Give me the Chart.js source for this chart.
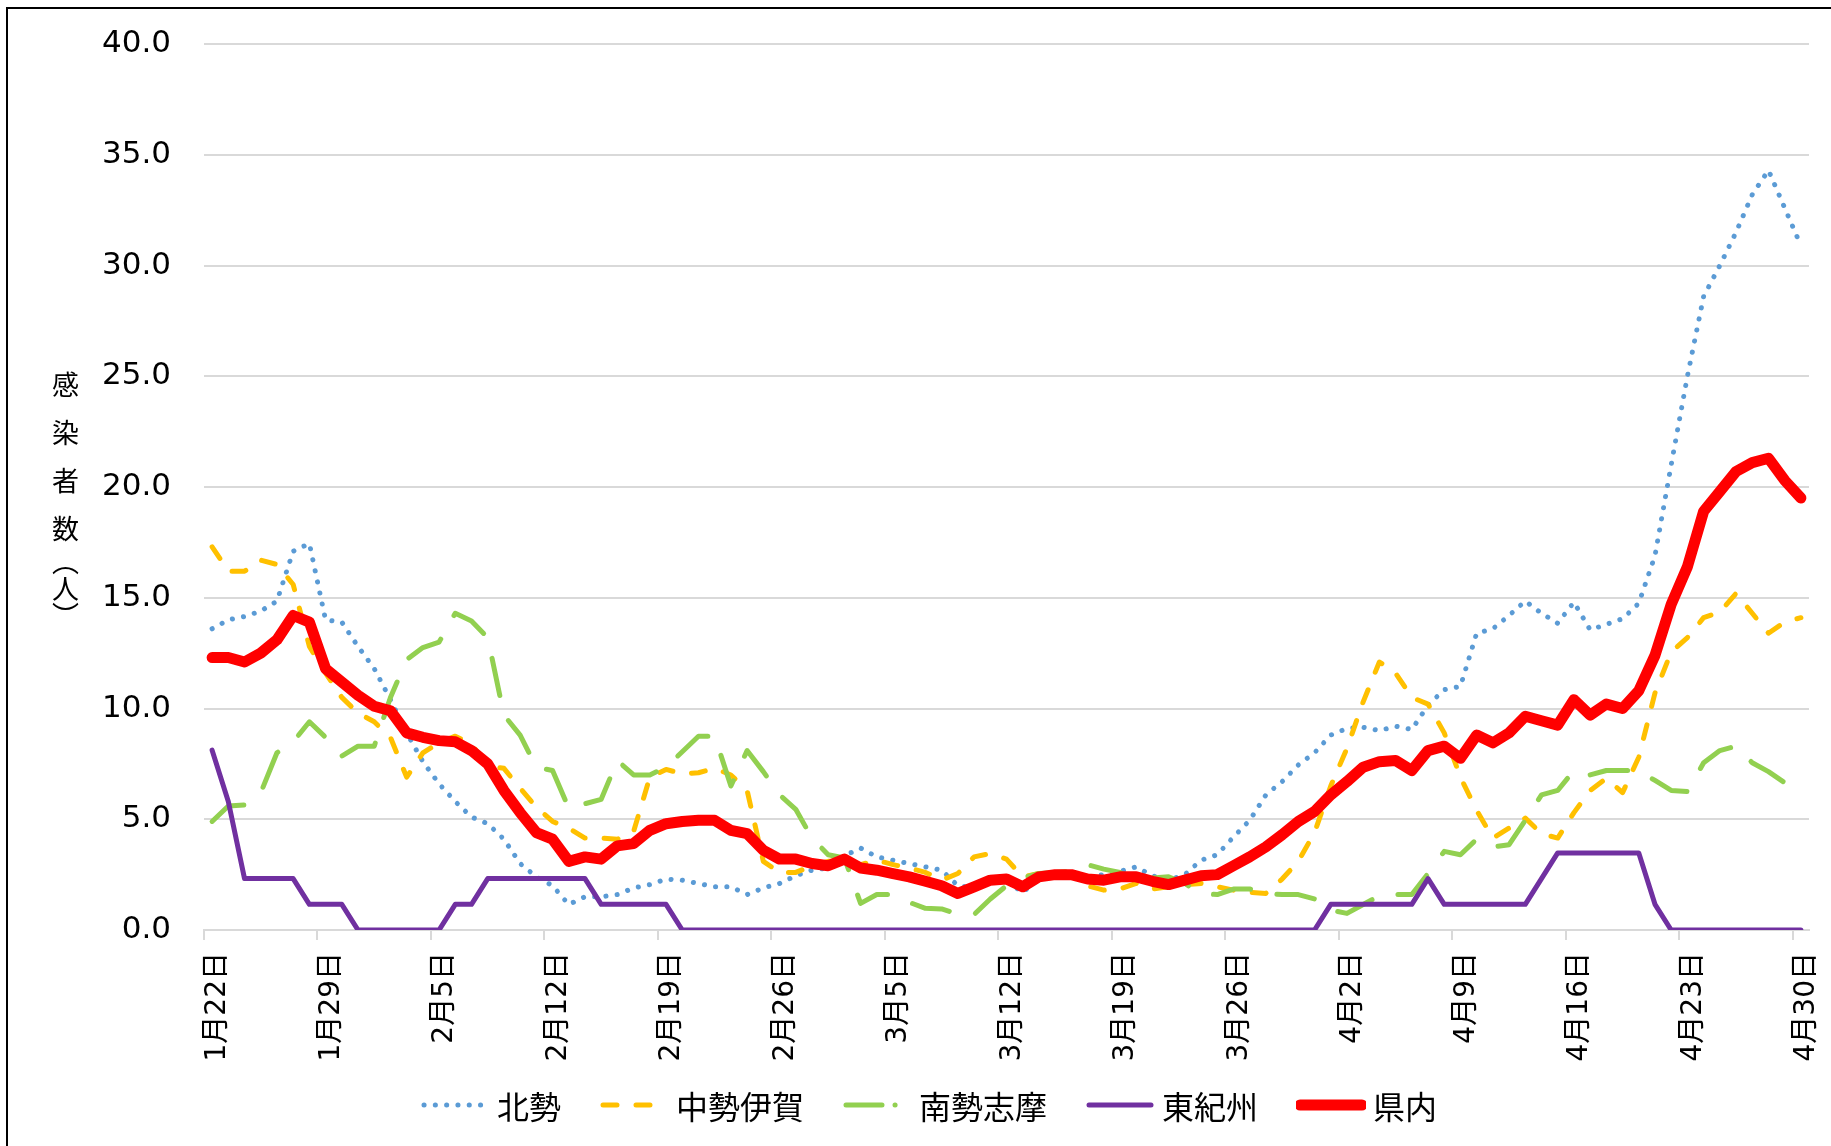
<!DOCTYPE html>
<html lang="ja">
<head>
<meta charset="utf-8">
<title>地域別 感染者数の推移</title>
<script src="https://cdn.jsdelivr.net/npm/chart.js@4.4.1/dist/chart.umd.min.js"></script>
<style>
    html, body { margin: 0; padding: 0; background: #fff; overflow: hidden; }
    #wrap { position: relative; width: 1831px; height: 1146px; }
    #frame {
        position: absolute; left: 6px; top: 7px; right: -10px; bottom: -10px;
        border-left: 2px solid #000; border-top: 2px solid #000;
        pointer-events: none;
    }
    .ytitle {
        position: absolute; writing-mode: vertical-rl;
        font-family: "Noto Sans CJK JP", sans-serif; font-size: 27px;
        line-height: 1; color: #000;
    }
    #ytitle1 { left: 52px; top: 371px; letter-spacing: 21px; }
    #ytitle2 { left: 52px; top: 548px; }
    #legend {
        position: absolute; left: 420px; top: 1084px; height: 42px;
        display: flex; align-items: center;
        font-family: "Noto Sans CJK JP", sans-serif; font-size: 32px; color: #000;
    }
    .legend-item { display: flex; align-items: center; margin-right: 38px; }
    .legend-item svg { width: 70px; height: 20px; margin-right: 7px; }
</style>
</head>
<body>
<div id="wrap">
    <canvas id="trendChart"></canvas>
    <div id="frame"></div>
    <div class="ytitle" id="ytitle1">感染者数</div>
    <div class="ytitle" id="ytitle2">（人）</div>
    <div id="legend"></div>
</div>

<script>
// Days: 1月22日 .. 4月30日 (one category per day)
const monthLengths = [31, 28, 31, 30];
const categories = [];
for (let m = 0; m < monthLengths.length; m++) {
    const first = (m === 0) ? 22 : 1;
    for (let d = first; d <= monthLengths[m]; d++) {
        categories.push((m + 1) + '月' + d + '日');
    }
}
const labelEvery = 7;

// Series values
const hokusei = [
    13.6, 14.0, 14.15, 14.4, 14.85, 17.1, 17.45, 14.0, 13.9, 12.8,
    11.8, 10.4, 8.9, 7.6, 6.6, 5.8, 5.1, 4.8, 4.1, 3.0,
    2.4, 2.0, 1.15, 1.5, 1.5, 1.6, 1.9, 2.05, 2.3, 2.25,
    2.1, 1.95, 1.95, 1.6, 1.9, 2.1, 2.45, 2.7, 2.8, 3.35,
    3.7, 3.3, 3.15, 3.0, 2.85, 2.7, 2.0, 1.9, 2.2, 2.2,
    1.7, 2.3, 2.4, 2.5, 2.4, 2.5, 2.65, 2.85, 2.45, 2.25,
    2.5, 3.15, 3.4, 4.2, 4.95, 6.1, 6.7, 7.45, 8.0, 8.8,
    9.1, 9.15, 9.0, 9.2, 9.05, 10.15, 10.85, 11.0, 13.4, 13.6,
    14.2, 14.85, 14.3, 13.85, 14.8, 13.55, 13.8, 14.05, 14.75, 16.9,
    21.0, 25.0, 28.6, 30.0, 31.5, 33.2, 34.3, 32.6, 30.9
];
const chuseiIga = [
    17.3, 16.2, 16.2, 16.7, 16.5, 15.6, 12.8, 11.6, 10.5, 9.8,
    9.4, 8.7, 6.9, 8.0, 8.45, 8.75, 8.4, 7.4, 7.3, 6.4,
    5.55, 4.9, 4.6, 4.15, 4.15, 4.1, 4.45, 6.9, 7.25, 7.05,
    7.1, 7.3, 7.0, 6.3, 3.1, 2.6, 2.6, 2.9, 3.1, 3.15,
    2.95, 3.15, 2.95, 2.8, 2.6, 2.25, 2.55, 3.3, 3.45, 3.2,
    2.4, 2.55, 2.55, 2.5, 2.0, 1.8, 1.85, 2.1, 1.85, 1.95,
    2.05, 2.1, 1.95, 1.8, 1.7, 1.65, 2.3, 3.1, 4.4, 6.5,
    8.2, 10.3, 12.1, 11.6, 10.5, 10.2, 8.9, 6.9, 5.4, 4.15,
    4.6, 5.05, 4.35, 4.15, 5.3, 6.3, 6.85, 6.2, 7.8, 10.7,
    12.55, 13.2, 14.1, 14.35, 15.2, 14.3, 13.4, 13.9, 14.1
];
const nanseiShima = [
    4.9, 5.6, 5.65, 6.2, 8.0, 8.5, 9.4, 8.7, 7.85, 8.3,
    8.3, 10.5, 12.2, 12.75, 13.0, 14.3, 13.95, 13.2, 9.7, 8.8,
    7.35, 7.2, 5.5, 5.7, 5.9, 7.65, 7.0, 7.0, 7.35, 8.05,
    8.75, 8.75, 6.5, 8.1, 7.15, 6.1, 5.45, 4.15, 3.4, 3.25,
    1.2, 1.6, 1.6, 1.25, 0.98, 0.95, 0.72, 0.7, 1.4, 2.0,
    2.35, 2.55, 2.6, 2.65, 2.95, 2.75, 2.6, 2.2, 2.35, 2.4,
    2.1, 1.65, 1.6, 1.85, 1.85, 1.65, 1.6, 1.6, 1.4, 0.9,
    0.75, 1.15, 1.55, 1.6, 1.6, 2.55, 3.55, 3.4, 4.1, 3.75,
    3.85, 4.95, 6.1, 6.3, 7.2, 7.0, 7.2, 7.2, 7.2, 6.75,
    6.3, 6.25, 7.55, 8.1, 8.3, 7.55, 7.15, 6.65, 6.1
];
const higashiKishu = [
    8.12, 5.8, 2.32, 2.32, 2.32, 2.32, 1.16, 1.16, 1.16, 0,
    0, 0, 0, 0, 0, 1.16, 1.16, 2.32, 2.32, 2.32,
    2.32, 2.32, 2.32, 2.32, 1.16, 1.16, 1.16, 1.16, 1.16, 0,
    0, 0, 0, 0, 0, 0, 0, 0, 0, 0,
    0, 0, 0, 0, 0, 0, 0, 0, 0, 0,
    0, 0, 0, 0, 0, 0, 0, 0, 0, 0,
    0, 0, 0, 0, 0, 0, 0, 0, 0, 1.16,
    1.16, 1.16, 1.16, 1.16, 1.16, 2.32, 1.16, 1.16, 1.16, 1.16,
    1.16, 1.16, 2.32, 3.48, 3.48, 3.48, 3.48, 3.48, 3.48, 1.16,
    0, 0, 0, 0, 0, 0, 0, 0, 0
];
const kennai = [
    12.3, 12.3, 12.1, 12.5, 13.1, 14.2, 13.9, 11.8, 11.2, 10.6,
    10.1, 9.9, 8.9, 8.7, 8.55, 8.5, 8.1, 7.5, 6.3, 5.3,
    4.4, 4.1, 3.1, 3.3, 3.2, 3.8, 3.9, 4.5, 4.8, 4.9,
    4.95, 4.95, 4.5, 4.35, 3.6, 3.2, 3.2, 3.0, 2.9, 3.2,
    2.8, 2.7, 2.55, 2.4, 2.2, 2.0, 1.65, 1.95, 2.25, 2.3,
    1.95, 2.4, 2.5, 2.5, 2.3, 2.25, 2.4, 2.4, 2.2, 2.05,
    2.25, 2.45, 2.5, 2.9, 3.3, 3.75, 4.3, 4.9, 5.35, 6.1,
    6.7, 7.35, 7.6, 7.65, 7.2, 8.1, 8.3, 7.75, 8.8, 8.45,
    8.9, 9.65, 9.45, 9.25, 10.4, 9.7, 10.2, 10.0, 10.8, 12.4,
    14.7, 16.4, 18.9, 19.8, 20.7, 21.1, 21.3, 20.3, 19.5
];

const yMin = 0;
const yMax = 40;
const yStep = 5;

// Series look (legend uses its own dash for 南勢志摩 to show the dot)
const seriesStyles = [
    { label: '北勢', data: hokusei, color: '#5B9BD5', width: 5, dash: [0.1, 11.2], legendDash: '0.1 11.2' },
    { label: '中勢伊賀', data: chuseiIga, color: '#FFC000', width: 5, dash: [14, 19], legendDash: '14 19' },
    { label: '南勢志摩', data: nanseiShima, color: '#92D050', width: 5, dash: [38, 27], legendDash: '36 13 0.1 13' },
    { label: '東紀州', data: higashiKishu, color: '#7030A0', width: 5, dash: [], legendDash: '' },
    { label: '県内', data: kennai, color: '#FF0000', width: 11, dash: [], legendDash: '' }
];

document.addEventListener('DOMContentLoaded', function() {
    initTrendChart();
    buildLegend();
});

function initTrendChart() {
    const ctx = document.getElementById('trendChart');
    if (!ctx) return;

    const tickFont = { family: '"DejaVu Sans", "Noto Sans CJK JP", sans-serif', size: 31 };
    const dateFont = { family: '"DejaVu Sans", "Noto Sans CJK JP", sans-serif', size: 28 };

    const datasets = seriesStyles.map(function(s, i) {
        return {
            label: s.label,
            data: s.data,
            borderColor: s.color,
            backgroundColor: s.color,
            borderWidth: s.width,
            borderDash: s.dash,
            borderCapStyle: 'round',
            borderJoinStyle: 'round',
            tension: 0,
            fill: false,
            pointRadius: 0,
            pointHoverRadius: 0,
            order: seriesStyles.length - i   // 県内 drawn last (on top)
        };
    });

    new Chart(ctx, {
        type: 'line',
        data: { labels: categories, datasets: datasets },
        options: {
            responsive: true,
            maintainAspectRatio: false,
            animation: false,
            layout: {
                padding: { top: 44, right: 22, left: 0, bottom: 84 }
            },
            plugins: {
                legend: { display: false },
                tooltip: { enabled: false }
            },
            scales: {
                x: {
                    type: 'category',
                    offset: true,
                    afterFit: function(scale) {
                        scale.height = 132;
                        scale.paddingLeft = 0;
                        scale.paddingRight = 0;
                    },
                    grid: {
                        offset: true,
                        drawOnChartArea: false,
                        drawTicks: true,
                        tickLength: 10,
                        lineWidth: 2,
                        color: function(context) {
                            return context.index % labelEvery === 0 ? '#d9d9d9' : 'rgba(0,0,0,0)';
                        }
                    },
                    border: { color: '#d9d9d9', width: 2 },
                    ticks: {
                        autoSkip: false,
                        minRotation: 90,
                        maxRotation: 90,
                        padding: 12,
                        labelOffset: 6,
                        color: '#000',
                        font: dateFont,
                        callback: function(value, index) {
                            return index % labelEvery === 0 ? categories[index] : '';
                        }
                    }
                },
                y: {
                    min: yMin,
                    max: yMax,
                    afterFit: function(scale) {
                        scale.width = 204;
                        scale.paddingTop = 0;
                        scale.paddingBottom = 0;
                    },
                    grid: {
                        color: '#d9d9d9',
                        lineWidth: 2,
                        drawTicks: false
                    },
                    border: { display: false },
                    ticks: {
                        stepSize: yStep,
                        padding: 33,
                        color: '#000',
                        font: tickFont,
                        callback: function(value) {
                            return value.toFixed(1);
                        }
                    }
                }
            }
        }
    });
}

// Legend drawn as HTML so the dash styles show
function buildLegend() {
    const box = document.getElementById('legend');
    if (!box) return;
    const svgNS = 'http://www.w3.org/2000/svg';

    seriesStyles.forEach(function(s) {
        const item = document.createElement('div');
        item.className = 'legend-item';

        const svg = document.createElementNS(svgNS, 'svg');
        svg.setAttribute('viewBox', '0 0 70 20');
        const line = document.createElementNS(svgNS, 'line');
        line.setAttribute('x1', 4);
        line.setAttribute('x2', 66);
        line.setAttribute('y1', 10);
        line.setAttribute('y2', 10);
        line.setAttribute('stroke', s.color);
        line.setAttribute('stroke-width', s.width);
        line.setAttribute('stroke-linecap', 'round');
        if (s.legendDash) line.setAttribute('stroke-dasharray', s.legendDash);
        svg.appendChild(line);

        const text = document.createElement('span');
        text.textContent = s.label;

        item.appendChild(svg);
        item.appendChild(text);
        box.appendChild(item);
    });
}
</script>
</body>
</html>
